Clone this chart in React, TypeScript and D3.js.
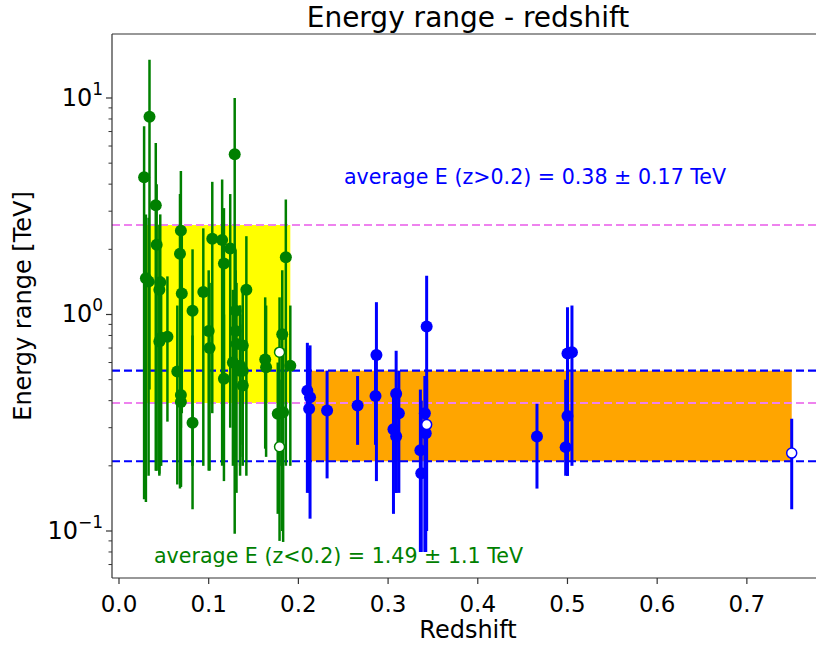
import React from "react";
import * as d3 from "d3";

// ---- data ----
// green: z < 0.2  [z, E, lower end, upper end]
const greenZ = [0.028, 0.030, 0.034, 0.033, 0.041, 0.042, 0.045, 0.046, 0.045, 0.047, 0.054, 0.065, 0.069, 0.068, 0.070, 0.069, 0.069, 0.082, 0.082, 0.094, 0.100, 0.101, 0.104, 0.115, 0.117, 0.117, 0.124, 0.129, 0.130, 0.127, 0.131, 0.135, 0.138, 0.142, 0.163, 0.164, 0.177, 0.183, 0.182, 0.186, 0.191, 0.130, 0.135, 0.138, 0.138];
const greenE = [4.3, 1.47, 8.2, 1.42, 3.2, 2.1, 1.3, 1.41, 0.75, 0.78, 0.79, 0.545, 2.44, 1.91, 1.25, 0.425, 0.394, 1.04, 0.316, 1.27, 0.84, 0.70, 2.24, 2.21, 1.72, 0.505, 2.02, 5.5, 1.04, 0.60, 0.73, 0.55, 0.47, 1.30, 0.62, 0.57, 0.348, 0.354, 0.81, 1.84, 0.58, 0.84, 0.58, 0.55, 0.72];
const greenLo = [0.14, 0.136, 0.45, 0.18, 0.19, 0.19, 0.18, 0.2, 0.184, 0.2, 0.32, 0.164, 0.3, 0.157, 0.35, 0.16, 0.16, 0.2, 0.126, 0.2, 0.19, 0.19, 0.35, 0.2, 0.5, 0.17, 0.3, 0.097, 0.22, 0.2, 0.15, 0.18, 0.22, 0.18, 0.24, 0.22, 0.12, 0.089, 0.1, 0.2, 0.2, 0.3, 0.2, 0.25, 0.2];
const greenHi = [7.4, 2.9, 15.0, 2.8, 6.2, 4.0, 2.6, 2.9, 1.4, 1.5, 1.5, 1.1, 4.6, 3.6, 2.5, 0.9, 0.8, 2.0, 0.8, 2.5, 1.6, 1.4, 4.1, 4.2, 3.1, 1.0, 3.6, 10.0, 2.0, 1.3, 1.4, 1.1, 0.9, 2.3, 1.2, 1.1, 0.6, 0.7, 1.6, 3.4, 1.1, 1.6, 1.1, 1.0, 1.3];
const greenOpenZ = [0.179, 0.179];
const greenOpenE = [0.67, 0.245];
const greenOpenLo = [0.2, 0.09];
const greenOpenHi = [1.2, 0.5];

// blue: z > 0.2
const blueZ = [0.210, 0.213, 0.212, 0.232, 0.266, 0.287, 0.286, 0.309, 0.312, 0.306, 0.309, 0.343, 0.341, 0.342, 0.336, 0.337, 0.466, 0.500, 0.505, 0.500, 0.498];
const blueE = [0.445, 0.415, 0.367, 0.36, 0.38, 0.65, 0.42, 0.43, 0.35, 0.295, 0.274, 0.88, 0.35, 0.283, 0.236, 0.185, 0.273, 0.66, 0.67, 0.34, 0.244];
const blueLo = [0.15, 0.114, 0.15, 0.175, 0.25, 0.17, 0.25, 0.15, 0.15, 0.12, 0.15, 0.3, 0.08, 0.08, 0.08, 0.08, 0.157, 0.18, 0.2, 0.18, 0.18];
const blueHi = [0.74, 0.72, 0.7, 0.55, 0.52, 1.14, 0.65, 0.68, 0.55, 0.42, 0.45, 1.51, 0.52, 0.5, 0.45, 0.4, 0.387, 1.08, 1.1, 0.6, 0.5];
const blueOpenZ = [0.343, 0.750];
const blueOpenE = [0.31, 0.229];
const blueOpenLo = [0.1, 0.126];
const blueOpenHi = [0.5, 0.33];

// averages
const lowMean = 1.49, lowStd = 1.1;
const highMean = 0.38, highStd = 0.17;
const lowBandZ = [0.028, 0.191];
const highBandZ = [0.210, 0.750];

const xTicks = [0, 0.1, 0.2, 0.3, 0.4, 0.5, 0.6, 0.7];
const yMajor = [-1, 0, 1];

const W = 816, H = 648;
const L = 112, R = 824, T = 34, B = 578;

export default function App() {
  const x = d3.scaleLinear().domain([-0.0078, 0.786]).range([L, R]);
  const y = d3.scaleLog().domain([Math.pow(10, -1.2171), Math.pow(10, 1.2956)]).range([B, T]);
  const font = "DejaVu Sans, sans-serif";

  const minor: number[] = [];
  for (let e = -2; e <= 1; e++) for (let m = 2; m <= 9; m++) {
    const v = m * Math.pow(10, e);
    if (y(v) >= T && y(v) <= B) minor.push(v);
  }

  const errs = (zs: number[], lo: number[], hi: number[], color: string, w: number, key: string) =>
    zs.map((z, i) => (
      <line key={key + i} x1={x(z)} x2={x(z)} y1={y(Math.max(lo[i], 1e-3))} y2={y(hi[i])} stroke={color} strokeWidth={w} />
    ));
  const dots = (zs: number[], es: number[], color: string, open: boolean, key: string) =>
    zs.map((z, i) => (
      <circle key={key + i} cx={x(z)} cy={y(es[i])} r={open ? 5 : 6} fill={open ? "white" : color} stroke={color} strokeWidth={open ? 1.5 : 0} />
    ));

  return (
    <svg width={W} height={H} style={{ position: "absolute", left: 0, top: 0, background: "white" }} fontFamily={font}>
      <defs>
        <clipPath id="plot"><rect x={L} y={T} width={R - L} height={B - T} /></clipPath>
      </defs>
      <rect x={0} y={0} width={W} height={H} fill="white" />
      <g clipPath="url(#plot)">
        {/* bands */}
        <rect x={x(lowBandZ[0])} y={y(lowMean + lowStd)} width={x(lowBandZ[1]) - x(lowBandZ[0])} height={y(lowMean - lowStd) - y(lowMean + lowStd)} fill="yellow" />
        <rect x={x(highBandZ[0])} y={y(highMean + highStd)} width={x(highBandZ[1]) - x(highBandZ[0])} height={y(highMean - highStd) - y(highMean + highStd)} fill="orange" />
        {/* dashed lines */}
        {[lowMean + lowStd, lowMean - lowStd].map((v, i) => (
          <line key={"p" + i} x1={L} x2={R} y1={y(v)} y2={y(v)} stroke="violet" strokeWidth={2} strokeDasharray="8,4" />
        ))}
        {[highMean + highStd, highMean - highStd].map((v, i) => (
          <line key={"b" + i} x1={L} x2={R} y1={y(v)} y2={y(v)} stroke="blue" strokeWidth={2.2} strokeDasharray="8,4" />
        ))}
        {errs(greenZ, greenLo, greenHi, "green", 2.5, "ge")}
        {errs(greenOpenZ, greenOpenLo, greenOpenHi, "green", 2.5, "goe")}
        {errs(blueZ, blueLo, blueHi, "blue", 3, "be")}
        {errs(blueOpenZ, blueOpenLo, blueOpenHi, "blue", 3, "boe")}
        {dots(greenZ, greenE, "green", false, "gd")}
        {dots(greenOpenZ, greenOpenE, "green", true, "god")}
        {dots(blueZ, blueE, "blue", false, "bd")}
        {dots(blueOpenZ, blueOpenE, "blue", true, "bod")}
      </g>
      {/* annotations */}
      <text x={344} y={184} fill="blue" fontSize={20.6}>average E (z&gt;0.2) = {highMean.toFixed(2)} ± {highStd.toFixed(2)} TeV</text>
      <text x={154} y={563} fill="green" fontSize={20.6}>average E (z&lt;0.2) = {lowMean} ± {lowStd} TeV</text>
      {/* spines */}
      <line x1={L} x2={L} y1={T} y2={B} stroke="#333" strokeWidth={1.2} />
      <line x1={L} x2={R} y1={B} y2={B} stroke="#333" strokeWidth={1.2} />
      <line x1={L} x2={R} y1={T} y2={T} stroke="#333" strokeWidth={1.2} />
      {/* x ticks */}
      {xTicks.map((t) => (
        <g key={"xt" + t}>
          <line x1={x(t)} x2={x(t)} y1={B} y2={B + 6} stroke="#333" strokeWidth={1.2} />
          <text x={x(t)} y={612} textAnchor="middle" fontSize={23} fill="black">{t.toFixed(1)}</text>
        </g>
      ))}
      {/* y ticks */}
      {minor.map((v, i) => (
        <line key={"ym" + i} x1={L - 3.5} x2={L} y1={y(v)} y2={y(v)} stroke="#333" strokeWidth={1} />
      ))}
      {yMajor.map((e) => (
        <g key={"yt" + e}>
          <line x1={L - 6} x2={L} y1={y(Math.pow(10, e))} y2={y(Math.pow(10, e))} stroke="#333" strokeWidth={1.2} />
          <text x={L - 9} y={y(Math.pow(10, e)) + 8} textAnchor="end" fontSize={24} fill="black">
            10<tspan dy={-11} fontSize={17}>{e < 0 ? "\u2212" + Math.abs(e) : String(e)}</tspan>
          </text>
        </g>
      ))}
      {/* labels */}
      <text x={(L + R) / 2} y={27} textAnchor="middle" fontSize={28} fill="black">Energy range - redshift</text>
      <text x={(L + R) / 2} y={638} textAnchor="middle" fontSize={24} fill="black">Redshift</text>
      <text transform={`translate(31,${(T + B) / 2}) rotate(-90)`} textAnchor="middle" fontSize={24} fill="black">Energy range [TeV]</text>
    </svg>
  );
}
